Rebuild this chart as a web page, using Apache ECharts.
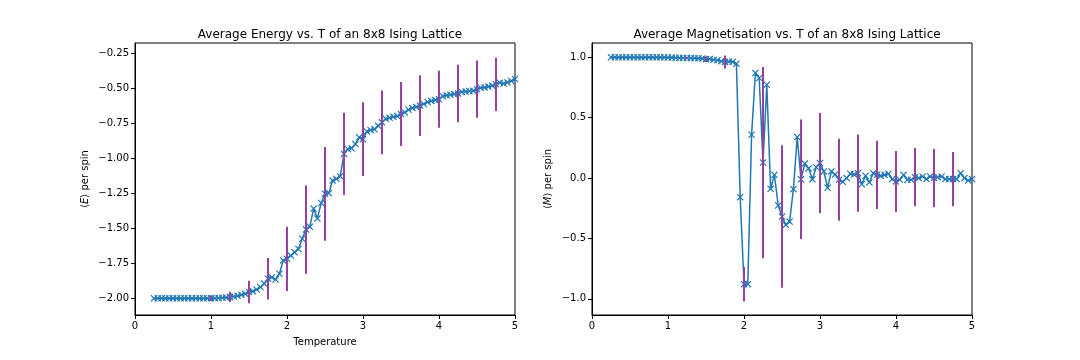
<!DOCTYPE html>
<html>
<head>
<meta charset="utf-8">
<script src="https://cdn.jsdelivr.net/npm/echarts@6/dist/echarts.min.js"></script>
<style>
html,body{margin:0;padding:0;background:#fff;}
#c{width:1080px;height:360px;}
</style>
</head>
<body>
<div id="c"></div>
<script>
const temperatures = [0.25,0.30,0.35,0.40,0.45,0.50,0.55,0.60,0.65,0.70,0.75,0.80,0.85,0.90,0.95,1.00,
1.05,1.10,1.15,1.20,1.25,1.30,1.35,1.40,1.45,1.50,1.55,1.60,1.65,1.70,1.75,1.80,1.85,1.90,1.95,2.00,
2.05,2.10,2.15,2.20,2.25,2.30,2.35,2.40,2.45,2.50,2.55,2.60,2.65,2.70,2.75,2.80,2.85,2.90,2.95,3.00,
3.05,3.10,3.15,3.20,3.25,3.30,3.35,3.40,3.45,3.50,3.55,3.60,3.65,3.70,3.75,3.80,3.85,3.90,3.95,4.00,
4.05,4.10,4.15,4.20,4.25,4.30,4.35,4.40,4.45,4.50,4.55,4.60,4.65,4.70,4.75,4.80,4.85,4.90,4.95,5.00];

const energy = [-2.0,-2.0,-2.0,-2.0,-2.0,-2.0,-2.0,-2.0,-2.0,-2.0,-2.0,-2.0,-2.0,-2.0,-2.0,-2.0,
-1.999,-1.998,-1.996,-1.995,-1.99,-1.987,-1.982,-1.975,-1.968,-1.955,-1.95,-1.937,-1.92,-1.895,-1.86,-1.85,-1.866,-1.825,-1.73,-1.718,
-1.695,-1.672,-1.648,-1.575,-1.51,-1.49,-1.36,-1.43,-1.32,-1.255,-1.25,-1.16,-1.148,-1.13,-0.97,-0.935,-0.93,-0.90,-0.852,-0.865,
-0.81,-0.80,-0.795,-0.77,-0.745,-0.72,-0.712,-0.705,-0.70,-0.686,-0.674,-0.655,-0.642,-0.635,-0.626,-0.614,-0.60,-0.592,-0.586,-0.58,
-0.558,-0.552,-0.548,-0.543,-0.54,-0.528,-0.525,-0.522,-0.52,-0.508,-0.498,-0.496,-0.49,-0.484,-0.474,-0.462,-0.468,-0.46,-0.45,-0.436];

const magnetisation = [1.0,1.0,1.0,1.0,1.0,1.0,1.0,1.0,1.0,1.0,1.0,1.0,1.0,1.0,1.0,0.999,
0.998,0.997,0.996,0.995,0.995,0.994,0.993,0.992,0.99,0.985,0.986,0.98,0.976,0.968,0.962,0.966,0.963,0.948,-0.158,-0.879,
-0.879,0.359,0.871,0.829,0.129,0.773,-0.089,0.027,-0.227,-0.318,-0.387,-0.36,-0.092,0.34,-0.01,0.12,0.08,-0.01,0.09,0.124,
0.055,-0.08,0.055,0.03,-0.014,-0.03,0.0,0.036,0.03,0.041,-0.05,0.019,-0.036,0.041,0.027,0.019,0.027,0.036,-0.008,-0.028,
-0.014,0.027,-0.014,-0.014,0.008,0.0,0.013,-0.008,0.013,0.0,0.008,0.013,-0.008,-0.008,-0.008,-0.008,0.041,0.0,-0.02,-0.008];

const errTemperatures = [0.25,0.50,0.75,1.00,1.25,1.50,1.75,2.00,2.25,2.50,2.75,3.00,3.25,3.50,3.75,4.00,4.25,4.50,4.75];
const energyErr = [0,0,0,0.02,0.036,0.08,0.148,0.229,0.314,0.335,0.293,0.263,0.228,0.228,0.217,0.203,0.205,0.205,0.19];
const magErr = [0,0,0,0,0.008,0.023,0.054,0.143,0.792,0.59,0.495,0.415,0.34,0.32,0.282,0.252,0.242,0.24,0.225];

const xTicks = [0,1,2,3,4,5];
const energyTicks = [-2.0,-1.75,-1.5,-1.25,-1.0,-0.75,-0.5,-0.25];
const magTicks = [-1.0,-0.5,0.0,0.5,1.0];

const FONT = 'DejaVu Sans';
const LINE = '#1f77b4';
const ERR = '#9a3fa2';
const XMARK = 'path://M0,1.2L1.2,0L5,3.8L8.8,0L10,1.2L6.2,5L10,8.8L8.8,10L5,6.2L1.2,10L0,8.8L3.8,5Z';

function fmt(v, d) {
  const s = Math.abs(v).toFixed(d);
  return (v < -1e-9 ? '\u2212' : '') + s;
}
function lookup(arr, t) {
  for (let i = 0; i < temperatures.length; i++) if (Math.abs(temperatures[i] - t) < 1e-9) return arr[i];
  return null;
}
function pairs(arr) { return temperatures.map((t, i) => [t, arr[i]]); }
function errData(arr, errs) { return errTemperatures.map((t, i) => [t, lookup(arr, t), errs[i]]); }

function renderErr(params, api) {
  const x = api.value(0), y = api.value(1), e = api.value(2);
  if (!(e > 0)) return null;
  const p1 = api.coord([x, y + e]);
  const p2 = api.coord([x, y - e]);
  return { type: 'line', shape: { x1: p1[0], y1: p1[1], x2: p2[0], y2: p2[1] },
    style: { stroke: ERR, lineWidth: 2 } };
}

function xAxis(idx, name) {
  return {
    type: 'value', gridIndex: idx, min: 0, max: 5, interval: 1,
    name: name, nameLocation: 'middle', nameGap: 22,
    nameTextStyle: { fontFamily: FONT, fontSize: 10, color: '#000' },
    axisLine: { show: true, onZero: false, lineStyle: { color: '#000', width: 1 } },
    axisTick: { show: true, length: 4, inside: false, customValues: xTicks, lineStyle: { color: '#000' } },
    axisLabel: { fontFamily: FONT, fontSize: 10, color: '#000', margin: 6, customValues: xTicks, formatter: v => fmt(v, 0) },
    splitLine: { show: false }
  };
}
function yAxis(idx, min, max, ticks, dec, name, gap) {
  return {
    type: 'value', gridIndex: idx, min: min, max: max,
    name: name, nameLocation: 'middle', nameGap: gap, nameRotate: 90,
    nameTextStyle: { fontFamily: FONT, fontSize: 10, color: '#000',
      rich: { i: { fontFamily: FONT, fontSize: 10, fontStyle: 'italic', color: '#000' } } },
    axisLine: { show: true, onZero: false, lineStyle: { color: '#000', width: 1 } },
    axisTick: { show: true, length: 4, inside: false, customValues: ticks, lineStyle: { color: '#000' } },
    axisLabel: { fontFamily: FONT, fontSize: 10, color: '#000', margin: 6, customValues: ticks, formatter: v => fmt(v, dec) },
    splitLine: { show: false }
  };
}

const chart = echarts.init(document.getElementById('c'), null, { renderer: 'canvas' });
chart.setOption({
  animation: false,
  backgroundColor: '#fff',
  title: [
    { text: 'Average Energy vs. T of an 8x8 Ising Lattice', left: 325, top: 24, textAlign: 'center',
      textStyle: { fontFamily: FONT, fontSize: 12, fontWeight: 'normal', color: '#000' } },
    { text: 'Average Magnetisation vs. T of an 8x8 Ising Lattice', left: 782, top: 24, textAlign: 'center',
      textStyle: { fontFamily: FONT, fontSize: 12, fontWeight: 'normal', color: '#000' } }
  ],
  grid: [
    { left: 135, top: 43, width: 380, height: 272, show: true, borderColor: '#000', borderWidth: 1, backgroundColor: 'transparent' },
    { left: 592, top: 43, width: 380, height: 272, show: true, borderColor: '#000', borderWidth: 1, backgroundColor: 'transparent' }
  ],
  xAxis: [xAxis(0, 'Temperature'), xAxis(1, '')],
  yAxis: [
    yAxis(0, -2.119, -0.179, energyTicks, 2, '\u27e8{i|E}\u27e9 per spin', 45),
    yAxis(1, -1.134, 1.119, magTicks, 1, '\u27e8{i|M}\u27e9 per spin', 39)
  ],
  series: [
    { type: 'line', xAxisIndex: 0, yAxisIndex: 0, data: pairs(energy), symbol: XMARK, symbolSize: 7,
      lineStyle: { color: LINE, width: 1.5 }, itemStyle: { color: LINE }, z: 2 },
    { type: 'custom', xAxisIndex: 0, yAxisIndex: 0, data: errData(energy, energyErr), renderItem: renderErr,
      encode: { x: 0, y: 1 }, z: 3 },
    { type: 'line', xAxisIndex: 1, yAxisIndex: 1, data: pairs(magnetisation), symbol: XMARK, symbolSize: 7,
      lineStyle: { color: LINE, width: 1.5 }, itemStyle: { color: LINE }, z: 2 },
    { type: 'custom', xAxisIndex: 1, yAxisIndex: 1, data: errData(magnetisation, magErr), renderItem: renderErr,
      encode: { x: 0, y: 1 }, z: 3 }
  ]
});
</script>
</body>
</html>
